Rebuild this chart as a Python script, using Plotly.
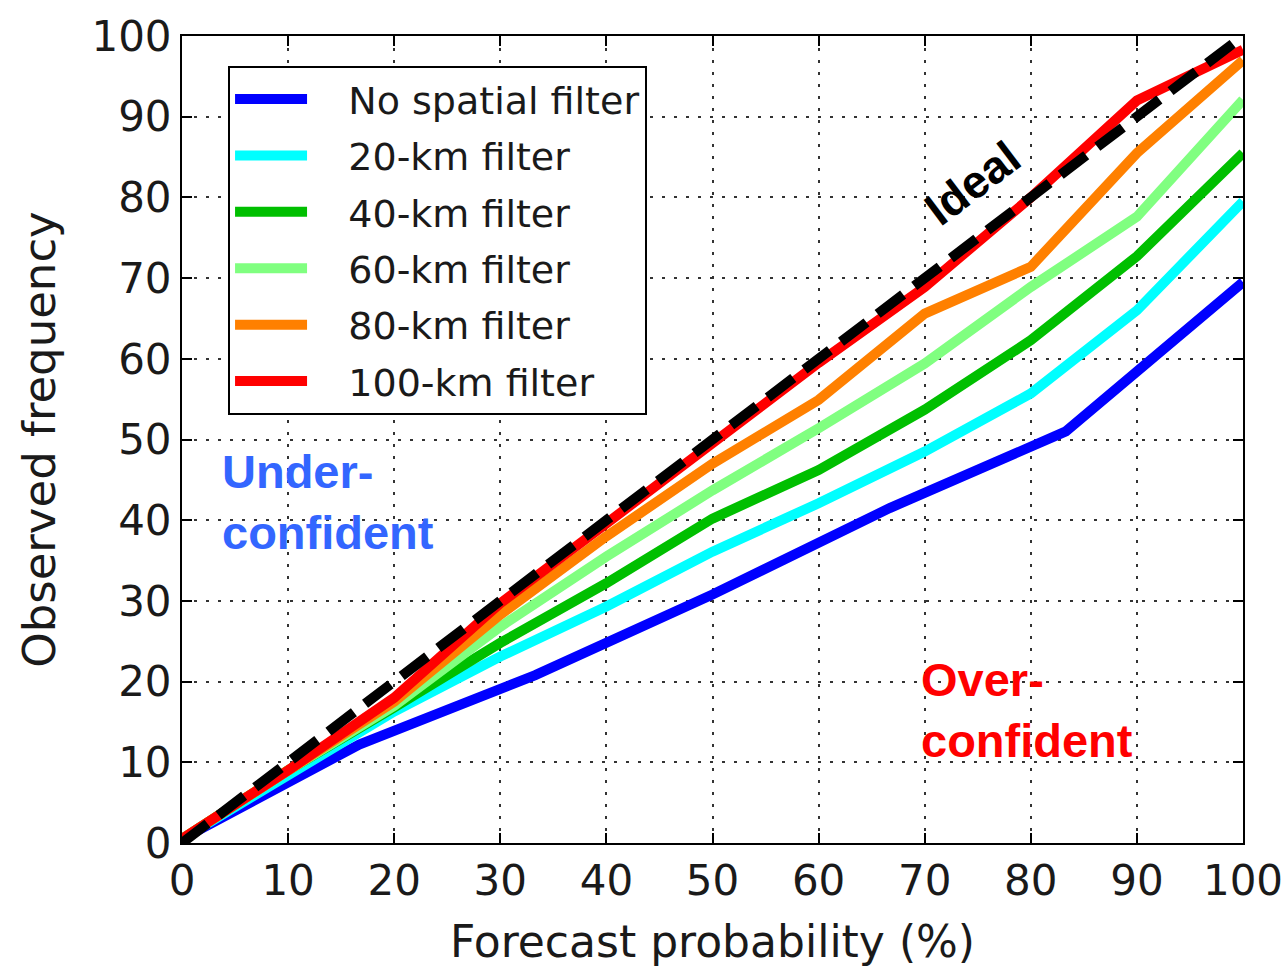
import plotly.graph_objects as go

# ---- data ----
x_blue = [0, 16.7, 33.3, 50, 66.7, 83.3, 100]
y_blue = [0.5, 12.2, 20.8, 30.8, 41.5, 51.0, 69.5]

x_bins = [0, 10, 20, 30, 40, 50, 60, 70, 80, 90, 100]
y_20km = [0.5, 8.5, 16.3, 23.1, 29.3, 36.1, 42.1, 48.5, 55.7, 66.0, 79.5]
y_40km = [0.5, 9.0, 16.8, 24.8, 32.2, 40.2, 46.2, 53.7, 62.3, 72.7, 85.5]
y_60km = [0.5, 9.0, 17.0, 26.8, 35.5, 43.7, 51.4, 59.4, 68.9, 77.6, 92.1]
y_80km = [0.5, 9.0, 17.5, 28.3, 38.0, 47.0, 54.9, 65.6, 71.4, 85.5, 97.0]
y_100km = [0.5, 9.0, 18.0, 29.7, 39.6, 49.5, 59.5, 68.9, 80.0, 92.0, 98.3]

ideal_x = [0, 100]
ideal_y = [0, 100]

names = ["No spatial filter", "20-km filter", "40-km filter",
         "60-km filter", "80-km filter", "100-km filter"]
colors = ["#0000FF", "#00FFFF", "#00BF00", "#80FF80", "#FF8000", "#FF0000"]

tick_vals = [0, 10, 20, 30, 40, 50, 60, 70, 80, 90, 100]

series = [(x_blue, y_blue), (x_bins, y_20km), (x_bins, y_40km),
          (x_bins, y_60km), (x_bins, y_80km), (x_bins, y_100km)]

pad = "\u00a0" * 3
fig = go.Figure()
for i, ((xs, ys), nm, col) in enumerate(zip(series, names, colors)):
    fig.add_trace(go.Scatter(x=xs, y=ys, mode="lines", name=pad + nm,
                             legendgroup=f"g{i}",
                             line=dict(color=col, width=10)))

fig.add_trace(go.Scatter(x=ideal_x, y=ideal_y, mode="lines", showlegend=False,
                         line=dict(color="black", width=10, dash="32px,14px")))

axis_common = dict(
    range=[0, 100], tickvals=tick_vals, ticks="inside", ticklen=10,
    tickwidth=1.5, tickcolor="black", showline=True, linecolor="black",
    linewidth=2, mirror="ticks", showgrid=True, gridcolor="#333333",
    gridwidth=1.5, griddash="3px,9px", zeroline=False, automargin=False,
    tickfont=dict(family="DejaVu Sans", size=42, color="#1a1a1a"),
)

fig.update_xaxes(**axis_common,
                 title=dict(text="Forecast probability (%)",
                            font=dict(family="DejaVu Sans", size=44, color="#1a1a1a"),
                            standoff=22))
fig.update_yaxes(**axis_common,
                 title=dict(text="Observed frequency",
                            font=dict(family="DejaVu Sans", size=45, color="#1a1a1a"),
                            standoff=22))

fig.add_annotation(x=3.6, y=49.6, xref="x", yref="y", xanchor="left", yanchor="top",
                   text="<b>Under-<br>confident</b>", showarrow=False, align="left",
                   font=dict(family="Liberation Sans", size=47, color="#3366FF"))
fig.add_annotation(x=69.5, y=23.8, xref="x", yref="y", xanchor="left", yanchor="top",
                   text="<b>Over-<br>confident</b>", showarrow=False, align="left",
                   font=dict(family="Liberation Sans", size=47, color="#FF0000"))
fig.add_annotation(x=74.5, y=81.8, xref="x", yref="y", text="<b>Ideal</b>",
                   showarrow=False, textangle=-37,
                   font=dict(family="Liberation Sans", size=46, color="black"))

fig.update_layout(
    width=1286, height=971,
    margin=dict(l=182, r=43, t=36, b=128),
    plot_bgcolor="white", paper_bgcolor="white",
    legend=dict(x=0.0434, y=0.963, xanchor="left", yanchor="top",
                bgcolor="white", bordercolor="black", borderwidth=2,
                font=dict(family="DejaVu Sans", size=38, color="#1a1a1a"),
                tracegroupgap=4, itemwidth=72),
)

fig.write_html("out.html")
